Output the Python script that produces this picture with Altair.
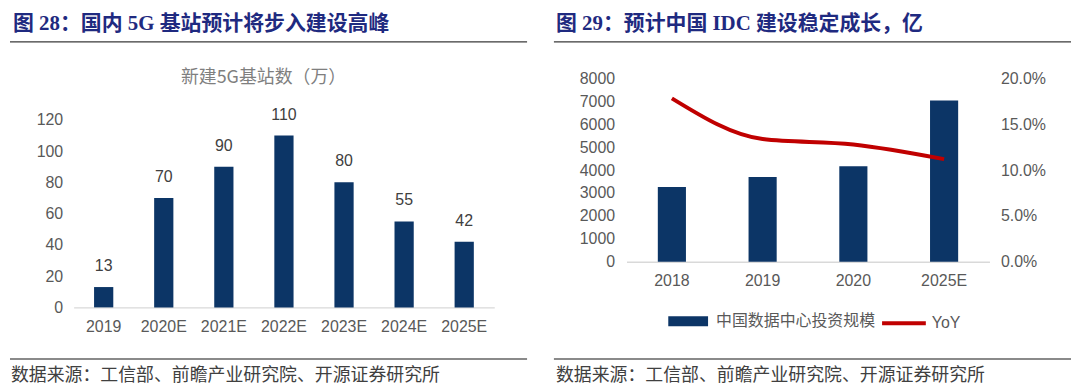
import altair as alt
import pandas as pd

# ---------------- data ----------------
g5_years = ["2019", "2020E", "2021E", "2022E", "2023E", "2024E", "2025E"]
g5_values = [13, 70, 90, 110, 80, 55, 42]
g5_ticks = [0, 20, 40, 60, 80, 100, 120]

idc_years = ["2018", "2019", "2020", "2025E"]
idc_invest = [3260, 3700, 4170, 7050]
idc_yoy = [0.1785, 0.134, 0.128, 0.112]
idc_ticks = [0, 1000, 2000, 3000, 4000, 5000, 6000, 7000, 8000]
yoy_ticks = [0.0, 0.05, 0.10, 0.15, 0.20]

left_title = ["图 28：国内 5G 基站预计将步入建设高峰"]
left_subtitle = ["新建5G基站数（万）"]
right_title = ["图 29：预计中国 IDC 建设稳定成长，亿"]
source_note = ["数据来源：工信部、前瞻产业研究院、开源证券研究所"]
bar_series = "中国数据中心投资规模"
line_series = "YoY"

# ---------------- styles ----------------
NAVY = "#0C3566"
RED = "#C00000"
TITLE_C = "#1F2A80"
SANS = "Liberation Sans, Noto Sans CJK SC"
SERIF = "Liberation Serif, Noto Sans CJK SC"
CJK = "Noto Sans CJK SC"
LABEL_C = "#595959"

LW, LH = 423, 230
RW, RH = 365, 184
L_TOP = 146.3  # left y-domain top so that the 120 tick sits lower than the panel top

df_l = pd.DataFrame({"year": g5_years, "value": g5_values})
df_r = pd.DataFrame({"year": idc_years, "invest": idc_invest, "yoy": idc_yoy,
                     "s1": [bar_series] * len(idc_years),
                     "s2": [line_series] * len(idc_years)})
t_l = pd.DataFrame({"t": left_title})
st_l = pd.DataFrame({"t": left_subtitle})
t_r = pd.DataFrame({"t": right_title})
note = pd.DataFrame({"t": source_note})


def deco(title_df, tx, rule_x, rule_x2, foot_x):
    title = alt.Chart(title_df).mark_text(
        align="left", baseline="middle", font=SERIF, fontSize=21,
        fontWeight="bold", color=TITLE_C
    ).encode(text="t:N", x=alt.value(tx), y=alt.value(-55))
    rule = alt.Chart(title_df).mark_rule(color="#3a3a3a", strokeWidth=1.5).encode(
        x=alt.value(rule_x), x2=alt.value(rule_x2), y=alt.value(-37))
    frule = alt.Chart(title_df).mark_rule(color="#8a8a8a", strokeWidth=2).encode(
        x=alt.value(rule_x), x2=alt.value(rule_x2), y=alt.value(282))
    foot = alt.Chart(note).mark_text(
        align="left", baseline="middle", font=CJK, fontSize=18, color="#404040"
    ).encode(text="t:N", x=alt.value(foot_x), y=alt.value(299))
    return [title, rule, frule, foot]


# ---------------- left panel ----------------
xl = alt.X("year:N", sort=g5_years, title=None,
           scale=alt.Scale(paddingInner=0.68, paddingOuter=0.34),
           axis=alt.Axis(labelAngle=0, ticks=False, grid=False, domainColor="#D9D9D9",
                         domainWidth=1.5, labelPadding=11))
yl = alt.Y("value:Q", title=None, scale=alt.Scale(domain=[0, L_TOP], nice=False),
           axis=alt.Axis(values=g5_ticks, domain=False, ticks=False, grid=False,
                         labelPadding=11, labelOverlap=False))
bars_l = alt.Chart(df_l).mark_bar(color=NAVY).encode(x=xl, y=yl)
vals_l = alt.Chart(df_l).mark_text(
    dy=-21, baseline="middle", font=SANS, fontSize=16, color="#404040"
).encode(x=xl, y=yl, text="value:Q")
sub_l = alt.Chart(st_l).mark_text(
    align="center", baseline="middle", font=CJK, fontSize=18, color="#7F7F7F"
).encode(text="t:N", x=alt.value(191), y=alt.value(-1))

left = alt.layer(
    bars_l, vals_l, sub_l,
    *deco(t_l, -61, -64, 456, -63)
).properties(width=LW, height=LH)

# ---------------- right panel ----------------
xr = alt.X("year:N", sort=idc_years, title=None,
           scale=alt.Scale(paddingInner=0.69, paddingOuter=0.345),
           axis=alt.Axis(labelAngle=0, ticks=False, grid=False, domainColor="#D9D9D9",
                         domainWidth=1.5, labelPadding=11))
bars_r = alt.Chart(df_r).mark_bar().encode(
    x=xr,
    y=alt.Y("invest:Q", title=None, scale=alt.Scale(domain=[0, 8000], nice=False),
            axis=alt.Axis(values=idc_ticks, format="d", orient="left", domain=False,
                          ticks=False, grid=False, labelPadding=12, labelOverlap=False)),
    color=alt.Color("s1:N", scale=alt.Scale(domain=[bar_series], range=[NAVY]),
                    legend=alt.Legend(orient="none", legendX=42, legendY=224, title=None,
                                      symbolType="M-1,-0.25H1V0.25H-1Z", symbolSize=1600,
                                      symbolStrokeWidth=0, labelOffset=8, padding=0,
                                      labelLimit=400, labelFont=SANS, labelFontSize=16,
                                      labelColor=LABEL_C)),
)
line_r = alt.Chart(df_r).mark_line(strokeWidth=4, interpolate="monotone").encode(
    x=xr,
    y=alt.Y("yoy:Q", title=None, scale=alt.Scale(domain=[0, 0.2], nice=False),
            axis=alt.Axis(values=yoy_ticks, format=".1%", orient="right", domain=False,
                          ticks=False, grid=False, labelPadding=11, labelOverlap=False)),
    stroke=alt.Stroke("s2:N", scale=alt.Scale(domain=[line_series], range=[RED]),
                      legend=alt.Legend(orient="none", legendX=255, legendY=222, title=None,
                                        symbolType="stroke", symbolSize=1936,
                                        symbolStrokeWidth=4, labelOffset=4, padding=0,
                                        labelFont=SANS, labelFontSize=16,
                                        labelColor=LABEL_C)),
)

right = alt.layer(
    bars_r, line_r,
    *deco(t_r, -71, -73, 447, -71)
).resolve_scale(y="independent").properties(width=RW, height=RH)

chart = alt.hconcat(left, right, spacing=25).resolve_legend(
    color="independent", stroke="independent"
).properties(
    padding={"left": 1, "top": 4, "right": 0, "bottom": 0}
).configure_view(strokeWidth=0).configure_axis(
    labelFont=SANS, labelFontSize=16, labelColor=LABEL_C
)

chart.save("out.html", embed_options={"renderer": "svg", "actions": False})
